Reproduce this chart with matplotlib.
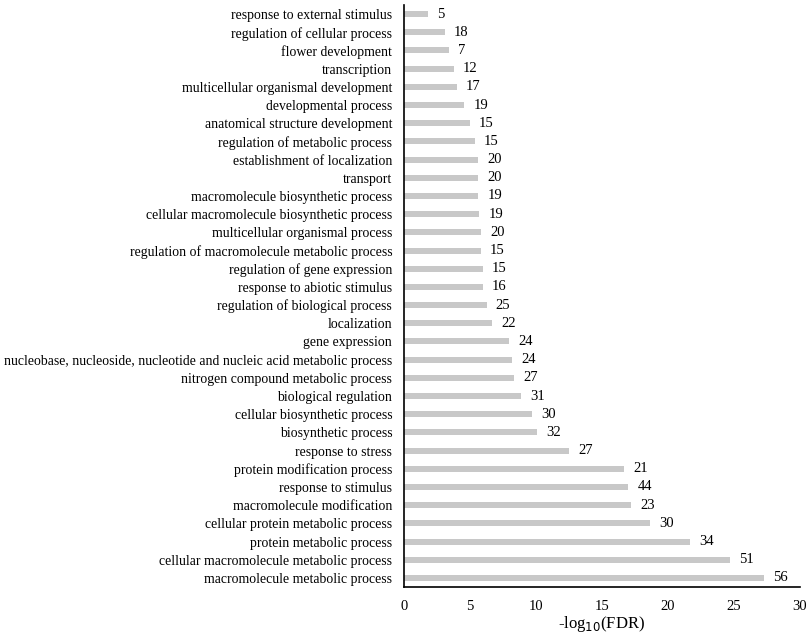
import numpy as np
import matplotlib.pyplot as plt

plt.rcParams['font.family'] = ['Liberation Serif', 'DejaVu Serif']

# categories listed bottom -> top
terms = [
    "macromolecule metabolic process",
    "cellular macromolecule metabolic process",
    "protein metabolic process",
    "cellular protein metabolic process",
    "macromolecule modification",
    "response to stimulus",
    "protein modification process",
    "response to stress",
    "biosynthetic process",
    "cellular biosynthetic process",
    "biological regulation",
    "nitrogen compound metabolic process",
    "nucleobase, nucleoside, nucleotide and nucleic acid metabolic process",
    "gene expression",
    "localization",
    "regulation of biological process",
    "response to abiotic stimulus",
    "regulation of gene expression",
    "regulation of macromolecule metabolic process",
    "multicellular organismal process",
    "cellular macromolecule biosynthetic process",
    "macromolecule biosynthetic process",
    "transport",
    "establishment of localization",
    "regulation of metabolic process",
    "anatomical structure development",
    "developmental process",
    "multicellular organismal development",
    "transcription",
    "flower development",
    "regulation of cellular process",
    "response to external stimulus",
]
neglog_fdr = [27.25, 24.7, 21.67, 18.66, 17.2, 17.0, 16.69, 12.52, 10.1, 9.72,
              8.84, 8.36, 8.16, 7.98, 6.64, 6.26, 5.98, 5.98, 5.81, 5.81,
              5.71, 5.63, 5.63, 5.58, 5.35, 4.97, 4.55, 3.99, 3.76, 3.38,
              3.1, 1.82]
gene_counts = [56, 51, 34, 30, 23, 44, 21, 27, 32, 30,
               31, 27, 24, 24, 22, 25, 16, 15, 15, 20,
               19, 19, 20, 20, 15, 15, 19, 17, 12, 7,
               18, 5]

fig = plt.figure(figsize=(8.09, 6.35), dpi=100)
ax = fig.add_axes([404 / 809, 1 - 587 / 635, 396 / 809, 582 / 635])

y = np.arange(len(terms))
ax.barh(y, neglog_fdr, height=0.33, color='#c8c8c8')
for yi, v, n in zip(y, neglog_fdr, gene_counts):
    ax.text(v + 0.7, yi, str(n), va='center', ha='left', fontsize=10.5)

ax.set_ylim(-0.5, len(terms) - 0.5)
ax.set_xlim(0, 30)
ax.set_xticks(np.arange(0, 31, 5))
ax.set_yticks(y)
ax.set_yticklabels(terms, fontsize=9.9)
ax.tick_params(axis='x', length=0, labelsize=10.5, pad=9)
ax.tick_params(axis='y', length=0, pad=8.5)
for s in ['top', 'right']:
    ax.spines[s].set_visible(False)
for s in ['left', 'bottom']:
    ax.spines[s].set_linewidth(1.2)
ax.set_xlabel('-log$_{10}$(FDR)', fontsize=12, labelpad=1)

plt.savefig('out.png', dpi=100)
